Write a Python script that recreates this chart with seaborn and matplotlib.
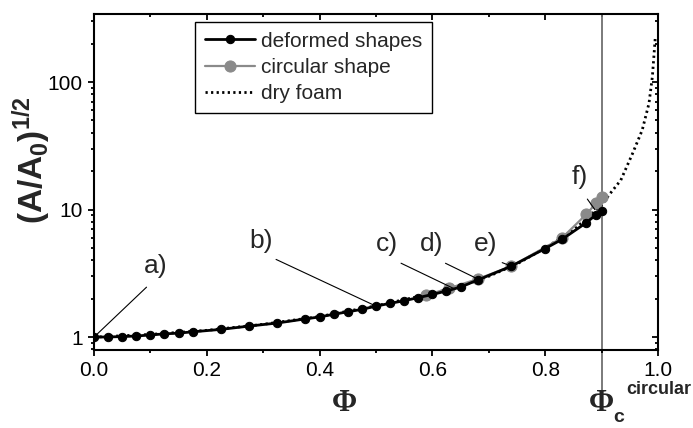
import matplotlib
matplotlib.use("Agg")
import matplotlib.pyplot as plt
import matplotlib.ticker as mticker
import matplotlib.transforms as mtransforms
import seaborn as sns

sns.set_theme(style="ticks")
plt.rcParams["font.family"] = ["Liberation Sans", "DejaVu Sans"]
plt.rcParams["mathtext.fontset"] = "custom"
plt.rcParams["mathtext.rm"] = "Liberation Sans:bold"
plt.rcParams["mathtext.bf"] = "Liberation Sans:bold"

# deformed shapes (black)
phi_deformed = [0.0, 0.025, 0.05, 0.075, 0.1, 0.125, 0.15, 0.175, 0.225, 0.275,
                0.325, 0.375, 0.4, 0.425, 0.45, 0.475, 0.5, 0.525, 0.55, 0.575,
                0.6, 0.625, 0.65, 0.68, 0.74, 0.8, 0.83, 0.873, 0.89, 0.9]
area_deformed = [1.0, 1.003, 1.01, 1.02, 1.04, 1.06, 1.075, 1.10, 1.15, 1.22,
                 1.29, 1.39, 1.44, 1.51, 1.58, 1.65, 1.75, 1.84, 1.93, 2.04,
                 2.16, 2.3, 2.47, 2.8, 3.6, 4.95, 5.85, 7.9, 9.1, 9.7]

# circular shape (gray)
phi_circular = [0.589, 0.63, 0.68, 0.74, 0.83, 0.873, 0.89, 0.9]
area_circular = [2.13, 2.42, 2.85, 3.6, 6.0, 9.2, 11.2, 12.6]

# dry foam (dotted)
phi_dry = [0.0, 0.1, 0.2, 0.3, 0.4, 0.5, 0.6, 0.65, 0.7, 0.75, 0.8, 0.85, 0.9,
           0.913, 0.934, 0.955, 0.972, 0.984, 0.99, 0.995]
area_dry = [1.0, 1.05, 1.13, 1.26, 1.45, 1.76, 2.2, 2.5, 3.0, 3.75, 5.0, 6.9, 10.8,
            13.0, 17.0, 27.6, 42.0, 68.0, 110.0, 219.0]

phi_c = 0.9
labels = ["a)", "b)", "c)", "d)", "e)", "f)"]
label_targets = [(0.0, 1.0), (0.5, 1.75), (0.64, 2.38), (0.683, 2.82), (0.74, 3.6), (0.888, 10.0)]
label_text_pos = [(0.11, 2.9), (0.297, 4.6), (0.519, 4.3), (0.598, 4.3), (0.695, 4.3), (0.862, 14.5)]

fig = plt.figure(figsize=(6.93, 4.28), dpi=100)
ax = fig.add_axes([0.1356, 0.182, 0.8139, 0.785])

sns.lineplot(x=phi_dry, y=area_dry, ax=ax, color="black", lw=2.0,
             linestyle=(0, (0.8, 1.2)), label="dry foam", zorder=1)
sns.lineplot(x=phi_circular, y=area_circular, ax=ax, color="#8a8a8a", lw=1.6,
             marker="o", markersize=8, markeredgecolor="#8a8a8a",
             label="circular shape", zorder=2)
sns.lineplot(x=phi_deformed, y=area_deformed, ax=ax, color="black", lw=2.0,
             marker="o", markersize=6, markeredgecolor="black",
             label="deformed shapes", zorder=3)

ax.set_yscale("log")
ax.set_xlim(0, 1.0)
ax.set_ylim(0.791, 341)


def set_locators(a):
    a.xaxis.set_major_locator(mticker.MultipleLocator(0.2))
    a.xaxis.set_minor_locator(mticker.MultipleLocator(0.1))
    a.yaxis.set_major_locator(mticker.LogLocator(base=10, numticks=10))
    a.yaxis.set_minor_locator(mticker.LogLocator(base=10, subs=range(2, 10), numticks=20))


set_locators(ax)
ax.xaxis.set_major_formatter(mticker.FormatStrFormatter("%.1f"))
ax.yaxis.set_major_formatter(mticker.FuncFormatter(lambda v, p: f"{v:g}"))
ax.yaxis.set_minor_formatter(mticker.NullFormatter())

ax.tick_params(which="both", direction="out", labelsize=15, width=1.3, colors="black",
               top=False, right=False)
ax.tick_params(which="major", length=4.5)
ax.tick_params(which="minor", length=2.5)
for s in ax.spines.values():
    s.set_linewidth(1.5)
    s.set_color("black")
    s.set_visible(True)

# mirrored ticks on top and right point inward
mirror = fig.add_axes(ax.get_position(), frameon=False)
mirror.set_yscale("log")
mirror.set_xlim(ax.get_xlim())
mirror.set_ylim(ax.get_ylim())
set_locators(mirror)
mirror.tick_params(which="both", direction="in", width=1.3, colors="black",
                   top=True, right=True, bottom=False, left=False,
                   labeltop=False, labelright=False, labelbottom=False, labelleft=False)
mirror.tick_params(which="major", length=4.5)
mirror.tick_params(which="minor", length=2.5)
mirror.patch.set_visible(False)
mirror.set_zorder(ax.get_zorder() - 1)
ax.patch.set_visible(False)

# critical packing line, running down to the Phi_c label
ax.axvline(phi_c, ymin=-0.128, ymax=1.0, color="#707070", lw=1.3, clip_on=False, zorder=0)

ax.set_ylabel(r"$\mathbf{(A/A_0)^{1/2}}$", fontsize=24)
ax.yaxis.set_label_coords(-0.072, 0.565)

trans = mtransforms.blended_transform_factory(ax.transData, ax.transAxes)
ax.text(0.445, -0.158, "\u03a6", transform=trans, ha="center", va="center",
        fontsize=22, fontweight="bold", family="Liberation Serif")
ax.text(phi_c, -0.158, "\u03a6", transform=trans, ha="center", va="center",
        fontsize=22, fontweight="bold", family="Liberation Serif")
ax.text(0.931, -0.202, "c", transform=trans, ha="center", va="center",
        fontsize=14, fontweight="bold")
ax.text(0.943, -0.116, "circular", transform=trans, ha="left", va="center",
        fontsize=13, fontweight="bold")

for lab, xy, xyt in zip(labels, label_targets, label_text_pos):
    ax.annotate(lab, xy=xy, xytext=xyt, fontsize=19, ha="center", va="bottom",
                arrowprops=dict(arrowstyle="-", color="black", lw=0.8,
                                shrinkA=6, shrinkB=0, relpos=(0.5, 0.0)))

handles, texts = ax.get_legend_handles_labels()
order = [2, 1, 0]
leg = ax.legend([handles[i] for i in order], [texts[i] for i in order],
                loc="upper left", bbox_to_anchor=(0.18, 0.976), fontsize=15,
                frameon=True, fancybox=False, framealpha=1, edgecolor="black",
                handlelength=2.4, handletextpad=0.3, labelspacing=0.35,
                borderpad=0.45, borderaxespad=0)
leg.get_frame().set_linewidth(1.0)

fig.savefig("out.png", dpi=100)
